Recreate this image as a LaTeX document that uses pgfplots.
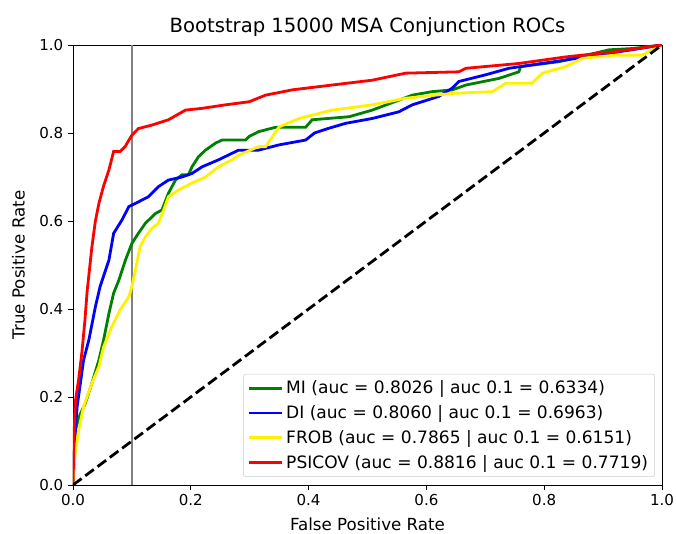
\documentclass[border=0pt]{standalone}
\usepackage{fontspec}
\setmainfont{DejaVu Sans}
\usepackage{pgfplots}
\pgfplotsset{compat=1.18}

\definecolor{mplgreen}{rgb}{0,0.5,0}

\begin{document}
\begin{tikzpicture}
\begin{axis}[
    scale only axis,
    width=441.75pt, height=330pt,
    xmin=0, xmax=1, ymin=0, ymax=1,
    xtick={0,0.2,0.4,0.6,0.8,1.0},
    ytick={0,0.2,0.4,0.6,0.8,1.0},
    xticklabel style={/pgf/number format/.cd, fixed, fixed zerofill, precision=1},
    yticklabel style={/pgf/number format/.cd, fixed, fixed zerofill, precision=1},
    /pgf/number format/assume math mode=true,
    tick align=outside,
    major tick length=3.8pt,
    xtick pos=bottom, ytick pos=left,
    tick style={black, line width=0.6pt},
    axis line style={line width=0.6pt},
    ticklabel style={font=\fontsize{11.3}{13}\selectfont},
    xlabel={False Positive Rate},
    ylabel={True Positive Rate},
    label style={font=\fontsize{12.5}{14}\selectfont},
    xlabel style={yshift=-2pt},
    ylabel style={yshift=4pt},
    title={Bootstrap 15000 MSA Conjunction ROCs},
    title style={font=\fontsize{14.7}{17}\selectfont, yshift=-3pt},
    legend cell align=left,
    legend style={at={(1,0)}, anchor=south east, xshift=-5.25pt, yshift=6pt,
        font=\fontsize{12.8}{15}\selectfont, draw=black!20, rounded corners=2pt,
        row sep=3.3pt, inner sep=3pt},
    legend image code/.code={\draw[#1] (0pt,0pt) -- (25pt,0pt);},
]
\addplot[gray, line width=1.1pt, forget plot] coordinates {(0.1,0) (0.1,1)};

\addplot[mplgreen, line width=2.1pt] coordinates {
(0,0) (0.004,0.125) (0.012,0.16) (0.021,0.186) (0.032,0.231) (0.044,0.284)
(0.052,0.33) (0.061,0.39) (0.069,0.436) (0.078,0.466) (0.089,0.511) (0.100,0.549)
(0.111,0.572) (0.123,0.595) (0.140,0.617) (0.151,0.625) (0.162,0.663) (0.174,0.693)
(0.185,0.705) (0.196,0.705) (0.202,0.723) (0.213,0.746) (0.225,0.761) (0.242,0.777)
(0.253,0.784) (0.293,0.784) (0.299,0.792) (0.315,0.803) (0.344,0.813) (0.395,0.813)
(0.406,0.83) (0.469,0.837) (0.508,0.852) (0.576,0.886) (0.61,0.894) (0.644,0.898)
(0.667,0.909) (0.723,0.924) (0.757,0.939) (0.76,0.951) (0.825,0.962) (0.91,0.989)
(0.95,0.992) (1,1)
};
\addlegendentry{MI (auc = 0.8026 | auc 0.1 = 0.6334)}

\addplot[blue, line width=2.1pt] coordinates {
(0,0) (0.003,0.102) (0.007,0.178) (0.018,0.284) (0.027,0.33) (0.038,0.405)
(0.046,0.451) (0.061,0.511) (0.069,0.572) (0.083,0.602) (0.095,0.633) (0.106,0.64)
(0.128,0.655) (0.145,0.678) (0.162,0.693) (0.185,0.70) (0.202,0.708) (0.219,0.723)
(0.247,0.739) (0.264,0.75) (0.281,0.761) (0.315,0.761) (0.35,0.773) (0.395,0.784)
(0.41,0.80) (0.435,0.811) (0.463,0.822) (0.508,0.833) (0.553,0.848) (0.576,0.864)
(0.621,0.883) (0.644,0.902) (0.655,0.917) (0.70,0.932) (0.74,0.947) (0.837,0.966)
(0.91,0.981) (1,1)
};
\addlegendentry{DI (auc = 0.8060 | auc 0.1 = 0.6963)}

\addplot[yellow, line width=2.1pt] coordinates {
(0,0) (0.003,0.064) (0.0096,0.125) (0.018,0.178) (0.032,0.231) (0.044,0.269)
(0.052,0.314) (0.066,0.36) (0.080,0.398) (0.095,0.428) (0.10,0.451) (0.106,0.489)
(0.114,0.542) (0.123,0.564) (0.134,0.583) (0.145,0.595) (0.154,0.625) (0.162,0.655)
(0.179,0.67) (0.202,0.686) (0.225,0.70) (0.248,0.724) (0.27,0.739) (0.282,0.75)
(0.315,0.769) (0.327,0.769) (0.35,0.814) (0.384,0.833) (0.44,0.852) (0.508,0.864)
(0.565,0.879) (0.644,0.89) (0.712,0.894) (0.735,0.913) (0.779,0.913) (0.797,0.936)
(0.837,0.951) (0.865,0.97) (0.922,0.977) (0.966,0.977) (1,1)
};
\addlegendentry{FROB (auc = 0.7865 | auc 0.1 = 0.6151)}

\addplot[red, line width=2.1pt] coordinates {
(0,0) (0.002,0.12) (0.004,0.19) (0.0096,0.24) (0.015,0.30) (0.02,0.37)
(0.024,0.44) (0.032,0.54) (0.038,0.60) (0.044,0.64) (0.052,0.68) (0.061,0.716)
(0.069,0.758) (0.080,0.758) (0.089,0.77) (0.095,0.784) (0.100,0.795) (0.111,0.81)
(0.134,0.818) (0.162,0.83) (0.191,0.852) (0.219,0.856) (0.259,0.864) (0.299,0.871)
(0.327,0.886) (0.372,0.898) (0.44,0.909) (0.508,0.92) (0.565,0.936) (0.655,0.939)
(0.667,0.947) (0.757,0.958) (0.837,0.973) (0.922,0.985) (1,1)
};
\addlegendentry{PSICOV (auc = 0.8816 | auc 0.1 = 0.7719)}

\addplot[black, line width=2.1pt, dash pattern=on 8pt off 3.5pt, forget plot] coordinates {(0,0) (1,1)};
\end{axis}
\pgfresetboundingbox
\path (current axis.south west) ++(-54.75pt,-36.75pt) coordinate (bbA);
\path (current axis.north east) ++(10.5pt,33.75pt) coordinate (bbB);
\useasboundingbox (bbA) rectangle (bbB);
\end{tikzpicture}
\end{document}
